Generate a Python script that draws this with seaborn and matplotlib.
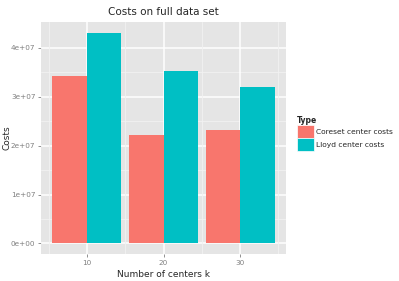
import matplotlib
matplotlib.use("Agg")
import matplotlib.pyplot as plt
import seaborn as sns
import pandas as pd
from matplotlib.patches import Patch
from matplotlib.ticker import FixedLocator

centers = ["10", "20", "30"]
coreset_costs = [3.42e7, 2.22e7, 2.32e7]
lloyd_costs = [4.31e7, 3.52e7, 3.19e7]
types = ["Coreset center costs", "Lloyd center costs"]
colors = ["#F8766D", "#00BFC4"]
ytick_vals = [0, 1e7, 2e7, 3e7, 4e7]
ytick_labels = ["0e+00", "1e+07", "2e+07", "3e+07", "4e+07"]

df = pd.DataFrame({
    "k": centers * 2,
    "Costs": coreset_costs + lloyd_costs,
    "Type": [types[0]] * 3 + [types[1]] * 3,
})

sns.set_style("white")
plt.rcParams["font.family"] = ["DejaVu Sans"]

fig = plt.figure(figsize=(3.99, 2.81), dpi=100)
ax = fig.add_axes([41 / 399, 1 - 254 / 281, 245 / 399, 232 / 281])
ax.set_facecolor("#E5E5E5")

sns.barplot(data=df, x="k", y="Costs", hue="Type", order=centers, hue_order=types,
            palette=colors, width=0.9, saturation=1, errorbar=None, ax=ax,
            linewidth=0, legend=False, zorder=3)

ymax = max(lloyd_costs + coreset_costs)
pad = ymax * 0.05
ax.set_ylim(-pad, ymax + pad)
ax.set_xlim(-0.6, 2.6)

# grid
for y in [0.5e7, 1.5e7, 2.5e7, 3.5e7]:
    ax.axhline(y, color="#F2F2F2", lw=0.6, zorder=1)
for y in ytick_vals:
    ax.axhline(y, color="white", lw=1.1, zorder=1)
for x in [-0.5, 0.5, 1.5, 2.5]:
    ax.axvline(x, color="#F2F2F2", lw=0.6, zorder=1)
for x in [0, 1, 2]:
    ax.axvline(x, color="white", lw=1.1, zorder=1)

ax.yaxis.set_major_locator(FixedLocator(ytick_vals))
ax.set_yticklabels(ytick_labels)
ax.tick_params(axis="both", which="major", length=2.5, width=0.6, color="#7F7F7F",
               labelcolor="#7F7F7F", labelsize=5.2, pad=1.5, left=True, bottom=True)
for s in ax.spines.values():
    s.set_visible(False)

ax.set_xlabel("Number of centers k", fontsize=6.5, labelpad=3)
ax.set_ylabel("Costs", fontsize=6.5)
ax.yaxis.set_label_coords((11 - 41) / 245, 0.5)
ax.set_title("Costs on full data set", fontsize=7.5, pad=5)

handles = [Patch(facecolor=c, edgecolor="white", linewidth=0.5) for c in colors]
leg = fig.legend(handles, types, title="Type", loc="upper left",
                 bbox_to_anchor=(294 / 399, 1 - 113 / 281), frameon=False,
                 fontsize=5.4, title_fontsize=5.5, handlelength=2.3, handleheight=2.3,
                 labelspacing=0.0, handletextpad=0.3, borderaxespad=0)
leg.get_title().set_fontweight("bold")
leg._legend_box.align = "left"

fig.savefig("out.png", dpi=100)
